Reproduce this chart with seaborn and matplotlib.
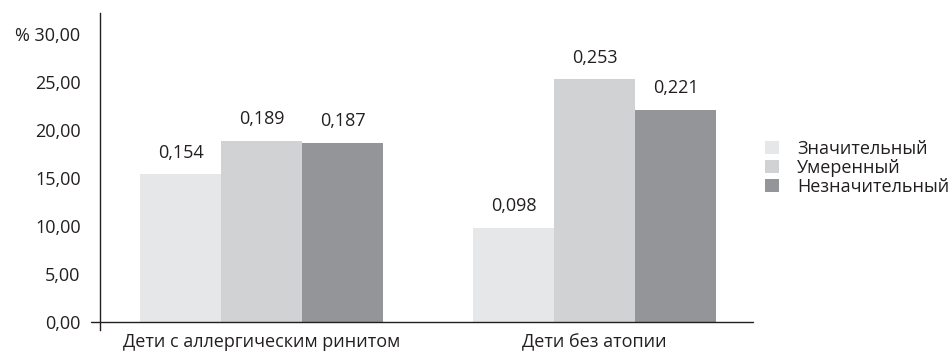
import matplotlib
matplotlib.use("Agg")
import matplotlib.pyplot as plt
import pandas as pd
import seaborn as sns

groups = ["Дети с аллергическим ринитом", "Дети без атопии"]
severity = ["Значительный", "Умеренный", "Незначительный"]
values_allergic = [15.4, 18.9, 18.7]
values_no_atopy = [9.8, 25.3, 22.1]
bar_labels_allergic = ["0,154", "0,189", "0,187"]
bar_labels_no_atopy = ["0,098", "0,253", "0,221"]
y_ticks = [0, 5, 10, 15, 20, 25, 30]
y_tick_labels = ["0,00", "5,00", "10,00", "15,00", "20,00", "25,00", "% 30,00"]
colors = ["#e6e7e8", "#d1d2d4", "#939598"]

df = pd.DataFrame({
    "group": [groups[0]] * 3 + [groups[1]] * 3,
    "severity": severity * 2,
    "value": values_allergic + values_no_atopy,
})

sns.set_style("white")
plt.rcParams["font.family"] = ["Open Sans", "DejaVu Sans"]

fig = plt.figure(figsize=(9.51, 3.56), dpi=100)
ax = fig.add_axes([0.1052, 0.073, 0.6866, 0.8905])

sns.barplot(data=df, x="group", y="value", hue="severity", order=groups,
            hue_order=severity, palette=colors, width=0.73, gap=0,
            saturation=1, linewidth=0, ax=ax, legend=True)

# labels above bars: one container per hue level
for i, cont in enumerate(ax.containers):
    labs = [bar_labels_allergic[i], bar_labels_no_atopy[i]]
    ax.bar_label(cont, labels=labs, padding=9, fontsize=13, color="#231f20")

ax.set_xlim(-0.485, 1.476)
ax.set_ylim(-0.83, 32.2)
ax.set_yticks(y_ticks)
ax.set_yticklabels(y_tick_labels)
ax.set_xlabel("")
ax.set_ylabel("")

for s in ["top", "right", "bottom"]:
    ax.spines[s].set_visible(False)
ax.spines["left"].set_color("#231f20")
ax.spines["left"].set_linewidth(1)

# horizontal baseline, slightly extending past the y axis
ax.plot([-0.014, 1], [0, 0], transform=ax.get_yaxis_transform(),
        color="#231f20", lw=1, clip_on=False)

ax.tick_params(axis="y", length=0, pad=14, labelsize=13, labelcolor="#231f20")
ax.tick_params(axis="x", length=0, pad=2, labelsize=13, labelcolor="#231f20")

leg = ax.legend(loc="upper left", bbox_to_anchor=(0.797, 0.627),
                bbox_transform=fig.transFigure, frameon=False, fontsize=13,
                handlelength=0.75, handleheight=0.7, handletextpad=1.0,
                labelspacing=0.05, borderaxespad=0)
for t in leg.get_texts():
    t.set_color("#231f20")

fig.savefig("out.png", dpi=100)
